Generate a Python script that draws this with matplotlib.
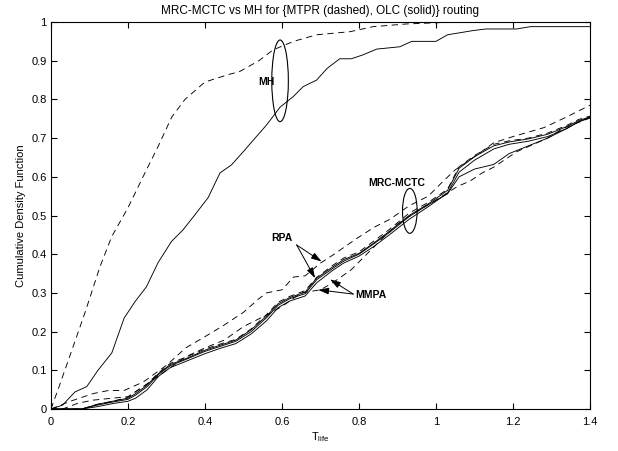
import matplotlib
matplotlib.use("Agg")
import matplotlib.pyplot as plt
from matplotlib.patches import Ellipse

plt.rcParams["font.family"] = ["Liberation Sans", "DejaVu Sans"]
plt.rcParams["mathtext.default"] = "regular"

# MH curves
mh_mtpr_x = [0, 0.02, 0.05, 0.088, 0.127, 0.158, 0.2, 0.244, 0.278, 0.314, 0.348, 0.4,
             0.46, 0.49, 0.54, 0.577, 0.63, 0.69, 0.777, 0.837, 0.924, 1.05, 1.4]
mh_mtpr_y = [0, 0.055, 0.14, 0.248, 0.367, 0.446, 0.52, 0.61, 0.678, 0.755, 0.80, 0.845,
             0.864, 0.872, 0.90, 0.928, 0.95, 0.967, 0.975, 0.988, 0.995, 1.0, 1.0]

mh_olc_x = [0, 0.03, 0.062, 0.093, 0.122, 0.158, 0.19, 0.218, 0.248, 0.278, 0.313, 0.343,
            0.374, 0.408, 0.439, 0.469, 0.504, 0.53, 0.56, 0.595, 0.629, 0.655, 0.69, 0.717,
            0.75, 0.78, 0.81, 0.846, 0.906, 0.937, 1.0, 1.03, 1.097, 1.13, 1.21, 1.245, 1.4]
mh_olc_y = [0, 0.01, 0.044, 0.058, 0.10, 0.145, 0.235, 0.277, 0.316, 0.378, 0.433, 0.463,
            0.502, 0.546, 0.61, 0.631, 0.67, 0.70, 0.734, 0.78, 0.807, 0.833, 0.85, 0.88,
            0.905, 0.905, 0.915, 0.93, 0.936, 0.95, 0.95, 0.967, 0.978, 0.982, 0.982, 0.988, 0.988]

# lower cluster (RPA, MMPA, MRC-MCTC)
low_x = [0, 0.08, 0.12, 0.16, 0.2, 0.22, 0.25, 0.28, 0.31, 0.35, 0.40, 0.44, 0.48, 0.52,
         0.56, 0.59, 0.62, 0.66, 0.69, 0.73, 0.76, 0.80, 0.84, 0.88, 0.93, 0.98, 1.03, 1.06,
         1.10, 1.15, 1.19, 1.24, 1.29, 1.34, 1.37, 1.40]
olc_a_y = [0, 0.0, 0.012, 0.02, 0.028, 0.04, 0.062, 0.092, 0.115, 0.13, 0.152, 0.165, 0.178,
           0.205, 0.24, 0.272, 0.288, 0.302, 0.338, 0.366, 0.386, 0.402, 0.43, 0.46, 0.50,
           0.53, 0.565, 0.622, 0.652, 0.68, 0.69, 0.698, 0.71, 0.73, 0.745, 0.755]
olc_b_y = [0, 0.0, 0.006, 0.014, 0.02, 0.028, 0.05, 0.085, 0.107, 0.123, 0.143, 0.157, 0.169,
           0.194, 0.228, 0.262, 0.279, 0.292, 0.326, 0.357, 0.377, 0.395, 0.421, 0.451, 0.49,
           0.523, 0.558, 0.612, 0.643, 0.672, 0.684, 0.692, 0.704, 0.725, 0.742, 0.753]
olc_c_y = [0, 0.0, 0.01, 0.018, 0.025, 0.036, 0.058, 0.09, 0.112, 0.128, 0.149, 0.162, 0.175,
           0.2, 0.236, 0.268, 0.285, 0.298, 0.334, 0.362, 0.382, 0.4, 0.428, 0.457, 0.497,
           0.528, 0.556, 0.60, 0.62, 0.632, 0.66, 0.68, 0.70, 0.725, 0.742, 0.753]

mtpr_a_x = [0, 0.05, 0.11, 0.15, 0.19, 0.24, 0.30, 0.35, 0.40, 0.45, 0.50, 0.54, 0.56, 0.60,
            0.63, 0.66, 0.70, 0.74, 0.79, 0.84, 0.88, 0.93, 0.98, 1.02, 1.05, 1.10, 1.15,
            1.20, 1.28, 1.34, 1.40]
mtpr_a_y = [0, 0.02, 0.04, 0.048, 0.048, 0.07, 0.113, 0.158, 0.187, 0.217, 0.25, 0.285, 0.30,
            0.308, 0.341, 0.344, 0.377, 0.403, 0.438, 0.47, 0.49, 0.525, 0.55, 0.59, 0.618,
            0.652, 0.688, 0.704, 0.727, 0.755, 0.785]

mtpr_b_x = [0, 0.03, 0.07, 0.11, 0.2, 0.24, 0.30, 0.35, 0.40, 0.45, 0.50, 0.56, 0.60, 0.65,
            0.70, 0.73, 0.78, 0.82, 0.86, 0.90, 0.95, 1.0, 1.054, 1.09, 1.12, 1.15, 1.21,
            1.29, 1.33, 1.40]
mtpr_b_y = [0, 0, 0.015, 0.023, 0.032, 0.058, 0.10, 0.135, 0.158, 0.178, 0.213, 0.243, 0.265,
            0.30, 0.308, 0.325, 0.36, 0.40, 0.44, 0.478, 0.51, 0.54, 0.574, 0.59, 0.61,
            0.625, 0.665, 0.70, 0.725, 0.752]

mtpr_c_y = [0, 0.0, 0.012, 0.02, 0.03, 0.045, 0.065, 0.094, 0.118, 0.134, 0.155, 0.168, 0.18,
            0.207, 0.244, 0.276, 0.291, 0.306, 0.34, 0.37, 0.39, 0.406, 0.435, 0.465, 0.506,
            0.534, 0.568, 0.626, 0.655, 0.684, 0.693, 0.70, 0.713, 0.733, 0.748, 0.757]

x_ticks = [0, 0.2, 0.4, 0.6, 0.8, 1, 1.2, 1.4]
x_tick_labels = ["0", "0.2", "0.4", "0.6", "0.8", "1", "1.2", "1.4"]
y_ticks = [0, 0.1, 0.2, 0.3, 0.4, 0.5, 0.6, 0.7, 0.8, 0.9, 1]
y_tick_labels = ["0", "0.1", "0.2", "0.3", "0.4", "0.5", "0.6", "0.7", "0.8", "0.9", "1"]

fig = plt.figure(figsize=(6.18, 4.51), dpi=100)
ax = fig.add_axes([0.0825, 0.0931, 0.8722, 0.8581])

lw = 0.65
dash = (0, (7, 5))
ax.plot(mh_mtpr_x, mh_mtpr_y, color="black", lw=lw, linestyle=dash)
ax.plot(mh_olc_x, mh_olc_y, color="black", lw=lw)
ax.plot(mtpr_a_x, mtpr_a_y, color="black", lw=lw, linestyle=dash)
ax.plot(mtpr_b_x, mtpr_b_y, color="black", lw=lw, linestyle=dash)
ax.plot(low_x, mtpr_c_y, color="black", lw=lw, linestyle=dash)
ax.plot(low_x, olc_a_y, color="black", lw=lw)
ax.plot(low_x, olc_b_y, color="black", lw=lw)
ax.plot(low_x, olc_c_y, color="black", lw=lw)

# annotations
ax.add_patch(Ellipse((0.595, 0.848), 0.043, 0.211, fill=False, lw=0.8, ec="black"))
ax.text(0.58, 0.845, "MH", fontsize=7.5, fontweight="bold", ha="right", va="center")
ax.add_patch(Ellipse((0.932, 0.512), 0.038, 0.116, fill=False, lw=0.8, ec="black"))
ax.text(0.898, 0.585, "MRC-MCTC", fontsize=7.5, fontweight="bold", ha="center", va="center")

arrow = dict(arrowstyle="-|>,head_length=0.7,head_width=0.22", color="black", lw=0.7,
             mutation_scale=9, shrinkA=0, shrinkB=0)
ax.text(0.599, 0.442, "RPA", fontsize=7.5, fontweight="bold", ha="center", va="center")
ax.annotate("", xy=(0.703, 0.381), xytext=(0.638, 0.424), arrowprops=arrow)
ax.annotate("", xy=(0.686, 0.338), xytext=(0.638, 0.424), arrowprops=arrow)
ax.text(0.79, 0.295, "MMPA", fontsize=7.5, fontweight="bold", ha="left", va="center")
ax.annotate("", xy=(0.725, 0.335), xytext=(0.785, 0.297), arrowprops=arrow)
ax.annotate("", xy=(0.694, 0.308), xytext=(0.785, 0.297), arrowprops=arrow)

ax.set_xlim(0, 1.4)
ax.set_ylim(0, 1)
ax.set_xticks(x_ticks)
ax.set_xticklabels(x_tick_labels)
ax.set_yticks(y_ticks)
ax.set_yticklabels(y_tick_labels)
ax.tick_params(direction="in", top=True, right=True, labelsize=8, length=4, width=0.8, pad=3)
ax.tick_params(axis="x", pad=6)
for s in ax.spines.values():
    s.set_linewidth(0.8)

ax.set_xlabel("T$_{life}$", fontsize=8, labelpad=2)
ax.set_ylabel("Cumulative Density Function", fontsize=8, labelpad=4)
ax.set_title("MRC-MCTC vs MH for {MTPR (dashed), OLC (solid)} routing", fontsize=8.5, pad=6)

fig.savefig("out.png", dpi=100)
